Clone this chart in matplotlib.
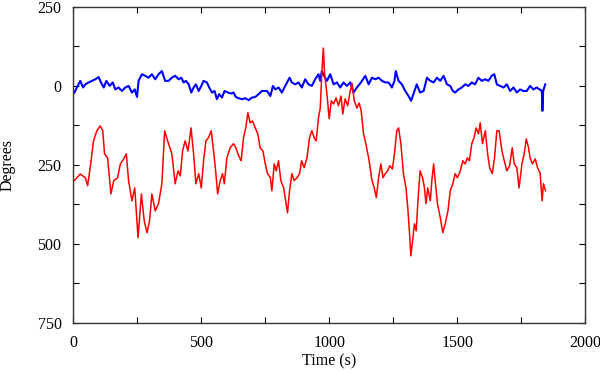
import matplotlib
matplotlib.use("Agg")
import matplotlib.pyplot as plt
from matplotlib.ticker import MultipleLocator

# values (time in s, angle in degrees, y axis points down)
red_t = [4, 27, 47, 56, 66, 79, 92, 105, 115, 122, 134, 147, 158, 173, 184, 197, 207, 216,
         229, 240, 253, 266, 277, 288, 298, 307, 320, 333, 346, 357, 372, 385, 398, 409, 418,
         427, 437, 448, 460, 470, 479, 490, 500, 509, 518, 528, 539, 548, 555, 564, 574, 583,
         590, 600, 613, 626, 635, 646, 656, 665, 674, 682, 691, 700, 711, 721, 730, 741, 750,
         759, 770, 776, 785, 793, 802, 811, 822, 830, 837, 845, 854, 863, 874, 884, 892, 902,
         913, 923, 932, 941, 949, 958, 965, 971, 977, 982, 991, 1000, 1008, 1017, 1027, 1036,
         1046, 1053, 1062, 1072, 1082, 1089, 1098, 1108, 1117, 1125, 1134, 1143, 1154, 1160,
         1167, 1176, 1184, 1193, 1202, 1210, 1219, 1228, 1237, 1247, 1255, 1264, 1271, 1280,
         1290, 1300, 1307, 1314, 1319, 1326, 1333, 1340, 1346, 1355, 1365, 1372, 1378, 1385,
         1395, 1401, 1408, 1414, 1423, 1434, 1444, 1453, 1464, 1473, 1483, 1492, 1501, 1512,
         1522, 1531, 1540, 1548, 1557, 1566, 1574, 1583, 1590, 1599, 1610, 1619, 1627, 1637,
         1646, 1655, 1664, 1675, 1684, 1694, 1705, 1715, 1723, 1733, 1742, 1753, 1762, 1770,
         1779, 1785, 1794, 1805, 1814, 1824, 1832, 1837, 1845]
red_deg = [300, 279, 291, 316, 259, 174, 142, 127, 142, 215, 228, 342, 300, 291, 247, 231, 215,
           300, 364, 323, 481, 342, 427, 465, 427, 342, 396, 373, 310, 142, 183, 215, 310, 269,
           285, 206, 174, 206, 133, 215, 310, 278, 323, 237, 174, 164, 142, 206, 259, 342, 300,
           278, 310, 228, 196, 183, 196, 221, 237, 164, 133, 85, 117, 111, 133, 152, 196, 206,
           247, 278, 291, 332, 247, 269, 237, 300, 323, 364, 402, 332, 278, 300, 291, 278, 237,
           259, 228, 164, 142, 164, 174, 101, 70, -38, -120, -38, 25, 104, 47, 57, 38, 63, 32,
           89, 41, 63, 16, -9, 47, 70, 54, 79, 152, 183, 228, 259, 300, 323, 354, 291, 247,
           291, 278, 269, 253, 263, 215, 142, 133, 183, 278, 323, 386, 468, 538, 490, 437, 459,
           373, 269, 291, 323, 373, 323, 364, 300, 247, 300, 373, 417, 465, 437, 396, 332,
           310, 278, 291, 269, 237, 247, 228, 237, 183, 164, 133, 152, 117, 183, 142, 215, 259,
           278, 228, 142, 142, 206, 237, 269, 253, 196, 247, 259, 323, 247, 215, 168, 196, 228,
           247, 231, 259, 275, 364, 310, 332]

blue_t = [0, 4, 14, 27, 38, 47, 60, 73, 86, 99, 108, 119, 129, 142, 154, 164, 177, 190, 203,
          216, 229, 240, 249, 255, 268, 281, 294, 307, 320, 333, 346, 359, 372, 385, 398, 412,
          422, 431, 440, 451, 461, 470, 479, 490, 500, 509, 522, 531, 542, 552, 561, 570, 581,
          591, 604, 617, 626, 635, 646, 659, 672, 685, 698, 711, 724, 737, 747, 757, 770, 780,
          789, 802, 815, 828, 845, 854, 867, 880, 893, 906, 919, 932, 945, 958, 965, 971, 980,
          991, 1004, 1017, 1030, 1043, 1056, 1069, 1082, 1095, 1108, 1118, 1128, 1141, 1154,
          1167, 1180, 1193, 1206, 1219, 1232, 1245, 1255, 1260, 1271, 1284, 1297, 1310, 1320,
          1329, 1342, 1355, 1369, 1382, 1395, 1408, 1421, 1434, 1447, 1460, 1473, 1483, 1492,
          1505, 1518, 1531, 1544, 1557, 1570, 1583, 1596, 1609, 1622, 1635, 1645, 1655, 1668,
          1681, 1694, 1707, 1720, 1733, 1746, 1759, 1772, 1785, 1798, 1811, 1822, 1831, 1833,
          1836, 1844]
blue_deg = [25, 21, 5, -16, 5, -5, -11, -16, -21, -28, -11, 5, -16, 0, -11, 11, 5, 16, 5, 0,
            21, 11, 35, -16, -37, -32, -26, -37, -21, -37, -47, -16, -16, -26, -32, -21, -26,
            -11, -16, -5, 21, 5, -5, 16, 0, -16, -11, 5, 21, 16, 42, 26, 37, 16, 21, 24, 21, 35,
            39, 42, 39, 45, 37, 35, 26, 16, 16, 16, 32, 0, 11, 5, 21, 0, -26, -11, -5, -11, 5,
            -21, -5, 0, -21, -37, -16, -47, -32, -16, -37, -5, -11, 5, -11, 0, -11, 21, 5, -5,
            -16, -32, -5, -26, -21, -26, -16, -11, -11, 5, -16, -47, -16, -5, 16, 32, 47, 26, -5,
            21, 16, -26, -16, -11, -26, -16, -32, -5, 0, 16, 21, 11, 5, -5, 0, -11, -5, -26, -16,
            -21, -16, -32, -37, -5, 0, 5, -5, 16, 5, 21, 11, 16, 16, 0, 11, 5, 11, 16, 79, 16,
            -5]

x_ticks = [0, 500, 1000, 1500, 2000]
y_ticks = [-250, 0, 250, 500, 750]
y_tick_labels = ["250", "0", "250", "500", "750"]

plt.rcParams['font.family'] = ['Liberation Serif', 'DejaVu Serif']

fig = plt.figure(figsize=(6, 3.72), dpi=100)
ax = fig.add_axes([0.1222, 0.1325, 0.853, 0.8487])

ax.plot(blue_t, blue_deg, color='#0000ff', lw=1.5)
ax.plot(red_t, red_deg, color='#ff0000', lw=1.1)

ax.set_xlim(0, 2000)
ax.set_ylim(750, -250)
ax.set_xticks(x_ticks)
ax.set_xticklabels([str(v) for v in x_ticks])
ax.set_yticks(y_ticks)
ax.set_yticklabels(y_tick_labels)
ax.xaxis.set_minor_locator(MultipleLocator(250))
ax.yaxis.set_minor_locator(MultipleLocator(125))
ax.tick_params(which='both', direction='in', top=True, right=True,
               length=4, width=0.8, labelsize=11.5)
ax.tick_params(axis='x', pad=9)
ax.tick_params(axis='y', pad=8.5)

for s in ax.spines.values():
    s.set_linewidth(1.0)
    s.set_color('#333333')

ax.set_xlabel("Time (s)", fontsize=11.5)
ax.set_ylabel("Degrees", fontsize=11.5)
ax.xaxis.set_label_coords(0.5, -0.097)
ax.yaxis.set_label_coords(-0.112, 0.5)

fig.savefig("out.png", dpi=100)
